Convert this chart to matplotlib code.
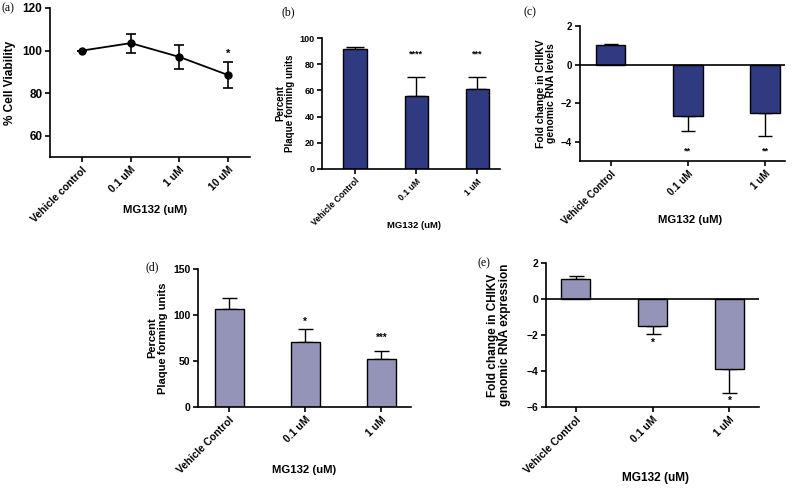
import numpy as np
import matplotlib.pyplot as plt

W, H = 796, 488
DARK = '#2f3a80'
LIGHT = '#9494b8'
FONT = ['Liberation Sans', 'DejaVu Sans']
plt.rcParams['font.family'] = FONT
plt.rcParams['font.weight'] = 'bold'
plt.rcParams['axes.labelweight'] = 'bold'

# (a) cell viability
a_labels = ['Vehicle control', '0.1 uM', '1 uM', '10 uM']
a_mean = [100, 103.5, 97, 88.5]
a_err = [0, 4.5, 5.5, 6.3]

# (b) plaque forming units
b_labels = ['Vehicle Control', '0.1 uM', '1 uM']
b_mean = [91.5, 56, 61]
b_err = [1.5, 14, 9.5]
b_stars = ['', '****', '***']
b_star_y = [0, 88, 88]

# (c) fold change genomic RNA levels
c_labels = ['Vehicle Control', '0.1 uM', '1 uM']
c_mean = [1.0, -2.65, -2.5]
c_err = [0.06, 0.8, 1.2]
c_stars = ['', '**', '**']
c_star_y = [0, -4.5, -4.5]

# (d) plaque forming units
d_labels = ['Vehicle Control', '0.1 uM', '1 uM']
d_mean = [107, 71, 52]
d_err = [12, 14, 9]
d_stars = ['', '*', '***']
d_star_y = [0, 93, 75]

# (e) fold change genomic RNA expression
e_labels = ['Vehicle Control', '0.1 uM', '1 uM']
e_mean = [1.1, -1.5, -3.9]
e_err = [0.18, 0.45, 1.3]
e_stars = ['', '*', '*']
e_star_y = [0, -2.45, -5.65]


def box(l, t, r, b):
    return [l / W, 1 - b / H, (r - l) / W, (b - t) / H]


def ftext(x, y, s, **kw):
    fig.text(x / W, 1 - y / H, s, **kw)


def panel_tag(x, y, s):
    ftext(x, y, s, ha='left', va='center', fontsize=8.5,
          family=['Liberation Serif', 'DejaVu Serif'], weight='normal')


def style(ax, xfs, yfs):
    for s in ['top', 'right']:
        ax.spines[s].set_visible(False)
    for s in ['left', 'bottom']:
        ax.spines[s].set_linewidth(1.2)
    ax.tick_params(width=1.2, length=3.5, pad=2)
    ax.tick_params(axis='y', labelsize=yfs)
    ax.tick_params(axis='x', labelsize=xfs)


def bars(ax, mean, err, color, cap, stars, star_y, fs_star):
    x = np.arange(len(mean))
    ax.bar(x, mean, width=0.38, color=color, edgecolor='black', linewidth=1.0, zorder=2)
    up = [e if m >= 0 else 0 for m, e in zip(mean, err)]
    lo = [e if m < 0 else 0 for m, e in zip(mean, err)]
    ax.errorbar(x, mean, yerr=[lo, up], fmt='none', ecolor='black', elinewidth=1.0,
                capsize=cap, capthick=1.0, zorder=1)
    for xi, s, y in zip(x, stars, star_y):
        if s:
            ax.text(xi, y, s, ha='center', va='center', fontsize=fs_star)


def xlabels(ax, labels):
    ax.set_xticks(np.arange(len(labels)))
    ax.set_xticklabels(labels, rotation=45, ha='right', rotation_mode='anchor')


fig = plt.figure(figsize=(W / 100, H / 100), dpi=100)

# (a)
ax = fig.add_axes(box(50, 8, 250, 157))
x = np.arange(len(a_mean))
ax.errorbar(x, a_mean, yerr=a_err, fmt='-o', color='black', markersize=5, linewidth=1.3,
            elinewidth=1.2, capsize=3.5, capthick=1.2)
ax.text(3, 98.5, '*', ha='center', va='center', fontsize=8)
ax.set_xlim(-0.66, 3.45)
ax.set_ylim(50, 120)
ax.set_yticks([60, 80, 100, 120])
xlabels(ax, a_labels)
style(ax, 7.5, 8.5)
ax.set_ylabel('% Cell Viability', fontsize=8.5, labelpad=5)
ftext(155, 210, 'MG132 (uM)', ha='center', va='center', fontsize=8.2)
panel_tag(2, 8, '(a)')

# (b)
ax = fig.add_axes(box(322, 38, 500, 169))
bars(ax, b_mean, b_err, DARK, 6.5, b_stars, b_star_y, 6.5)
ax.set_xlim(-0.54, 2.37)
ax.set_ylim(0, 100)
ax.set_yticks(np.arange(0, 101, 20))
xlabels(ax, b_labels)
style(ax, 6.2, 6.5)
ax.set_ylabel('Percent\nPlaque forming units', fontsize=7, labelpad=3, linespacing=1.0)
ftext(414, 225, 'MG132 (uM)', ha='center', va='center', fontsize=6.8)
panel_tag(282, 12, '(b)')

# (c)
ax = fig.add_axes(box(580, 26, 785, 161))
bars(ax, c_mean, c_err, DARK, 4.7, c_stars, c_star_y, 6.5)
ax.axhline(0, color='black', linewidth=1.2, zorder=3)
ax.set_xlim(-0.4, 2.26)
ax.set_ylim(-5, 2)
ax.set_yticks([-4, -2, 0, 2])
xlabels(ax, c_labels)
style(ax, 7, 7)
ax.set_ylabel('Fold change in CHIKV\ngenomic RNA levels', fontsize=7.5, labelpad=4, linespacing=1.0)
ftext(690, 220, 'MG132 (uM)', ha='center', va='center', fontsize=8.2)
panel_tag(524, 12, '(c)')

# (d)
ax = fig.add_axes(box(198, 269, 411, 407))
bars(ax, d_mean, d_err, LIGHT, 5.4, d_stars, d_star_y, 7)
ax.set_xlim(-0.41, 2.39)
ax.set_ylim(0, 150)
ax.set_yticks([0, 50, 100, 150])
xlabels(ax, d_labels)
style(ax, 7.5, 7.5)
ax.set_ylabel('Percent\nPlaque forming units', fontsize=8, labelpad=4, linespacing=1.0)
ftext(304, 470, 'MG132 (uM)', ha='center', va='center', fontsize=8.2)
panel_tag(146, 267, '(d)')

# (e)
ax = fig.add_axes(box(546, 263, 759, 407))
bars(ax, e_mean, e_err, LIGHT, 5.4, e_stars, e_star_y, 7.5)
ax.axhline(0, color='black', linewidth=1.2, zorder=3)
ax.set_xlim(-0.39, 2.39)
ax.set_ylim(-6, 2)
ax.set_yticks([-6, -4, -2, 0, 2])
xlabels(ax, e_labels)
style(ax, 7.5, 7.5)
ax.set_ylabel('Fold change in CHIKV\ngenomic RNA expression', fontsize=8.5, labelpad=11, linespacing=1.0)
ftext(655, 478, 'MG132 (uM)', ha='center', va='center', fontsize=8.6)
panel_tag(477, 263, '(e)')

fig.savefig('out.png', dpi=100)
